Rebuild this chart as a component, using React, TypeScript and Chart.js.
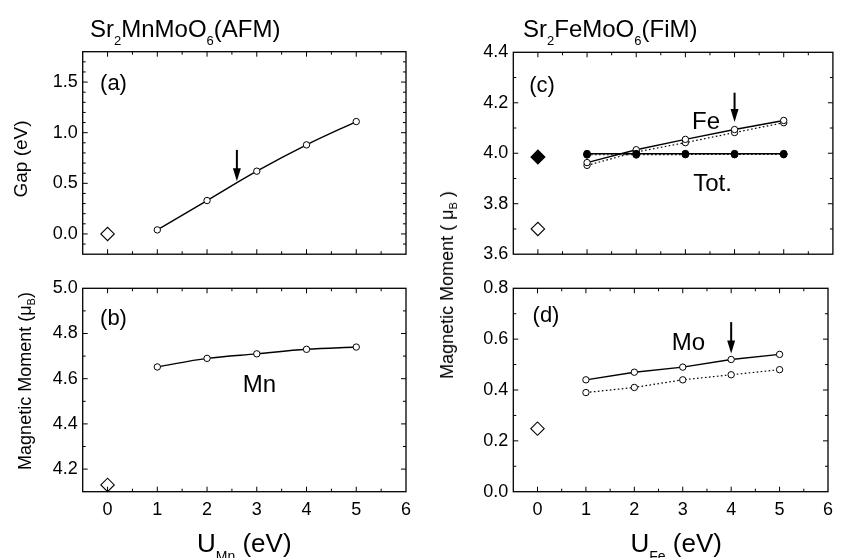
import React, { useEffect, useRef } from 'react';
import { Chart, registerables } from 'chart.js';

Chart.register(...registerables);

// ---------------- data ----------------
const U_VALUES = [1, 2, 3, 4, 5];

const GAP_U0 = 0.0;
const GAP = [0.04, 0.33, 0.62, 0.88, 1.11];

const MN_MOMENT_U0 = 4.13;
const MN_MOMENT = [4.652, 4.69, 4.71, 4.73, 4.74];

const FE_MOMENT_U0 = 3.7;
const TOT_MOMENT_U0 = 3.985;
const FE_MOMENT = [3.963, 4.014, 4.055, 4.094, 4.13];
const FE_MOMENT_DOT = [3.952, 4.005, 4.042, 4.082, 4.121];
const TOT_MOMENT = [3.998, 3.998, 3.998, 3.998, 3.998];
const TOT_MOMENT_DOT = [3.994, 3.994, 3.995, 3.995, 3.995];

const MO_MOMENT_U0 = 0.248;
const MO_MOMENT = [0.44, 0.47, 0.49, 0.52, 0.54];
const MO_MOMENT_DOT = [0.39, 0.41, 0.44, 0.46, 0.48];

const X_TICK_LABELS = ['0', '1', '2', '3', '4', '5', '6'];
const GAP_TICK_LABELS = ['0.0', '0.5', '1.0', '1.5'];
const MN_TICK_LABELS = ['4.2', '4.4', '4.6', '4.8', '5.0'];
const FE_TICK_LABELS = ['3.6', '3.8', '4.0', '4.2', '4.4'];
const MO_TICK_LABELS = ['0.0', '0.2', '0.4', '0.6', '0.8'];

// arrows: x, start value, tip value
const ARROW_A = { x: 2.6, from: 0.83, to: 0.52 };
const ARROW_C = { x: 4.0, from: 4.24, to: 4.124 };
const ARROW_D = { x: 4.0, from: 0.667, to: 0.544 };

// ---------------- styling ----------------
const FONT = "'Liberation Sans', Arial, Helvetica, sans-serif";
const BLACK = '#000';
const TICK_FONT_SIZE = 18;

type XY = { x: number; y: number };
const pts = (ys: number[]): XY[] => U_VALUES.map((u, i) => ({ x: u, y: ys[i] }));

function diamond(x: number, y: number, filled: boolean, r: number) {
  return {
    data: [{ x, y }],
    showLine: false,
    pointStyle: 'rectRot',
    pointRadius: r,
    pointHoverRadius: r,
    pointBorderColor: BLACK,
    pointBackgroundColor: filled ? BLACK : '#fff',
    pointBorderWidth: 1.1,
  };
}

function series(ys: number[], opts: { dotted?: boolean; filled?: boolean; curve?: boolean; r?: number }) {
  const r = opts.r ?? 3.2;
  return {
    data: pts(ys),
    showLine: true,
    borderColor: BLACK,
    borderWidth: opts.dotted ? 1.2 : 1.4,
    borderDash: opts.dotted ? [1.6, 2.4] : [],
    cubicInterpolationMode: opts.curve ? 'monotone' : 'default',
    tension: 0,
    pointStyle: 'circle',
    pointRadius: r,
    pointHoverRadius: r,
    pointBorderColor: BLACK,
    pointBackgroundColor: opts.filled ? BLACK : '#fff',
    pointBorderWidth: 1,
  };
}

type Spec = {
  key: string;
  box: { left: number; top: number; width: number; height: number };
  area: { l: number; t: number; r: number; b: number };
  xh: number;
  showX: boolean;
  yMin: number;
  yMax: number;
  yStep: number;
  yLabels: string[];
  datasets: any[];
  arrow?: { x: number; from: number; to: number };
};

const SPECS: Spec[] = [
  {
    key: 'a',
    box: { left: 0, top: 0, width: 420, height: 270 },
    area: { l: 82.7, t: 51.7, r: 406, b: 256.7 },
    xh: 0,
    showX: false,
    yMin: -0.2,
    yMax: 1.8,
    yStep: 0.1,
    yLabels: GAP_TICK_LABELS,
    datasets: [diamond(0, GAP_U0, false, 6.7), series(GAP, { curve: true })],
    arrow: ARROW_A,
  },
  {
    key: 'b',
    box: { left: 0, top: 270, width: 420, height: 288 },
    area: { l: 82.7, t: 18.3, r: 406, b: 221.7 },
    xh: 40,
    showX: true,
    yMin: 4.1,
    yMax: 5.0,
    yStep: 0.1,
    yLabels: MN_TICK_LABELS,
    datasets: [diamond(0, MN_MOMENT_U0, false, 6.7), series(MN_MOMENT, { curve: true })],
  },
  {
    key: 'c',
    box: { left: 420, top: 0, width: 421, height: 270 },
    area: { l: 93.3, t: 52.3, r: 416.7, b: 256.7 },
    xh: 0,
    showX: false,
    yMin: 3.6,
    yMax: 4.4,
    yStep: 0.1,
    yLabels: FE_TICK_LABELS,
    datasets: [
      diamond(0, TOT_MOMENT_U0, true, 7),
      diamond(0, FE_MOMENT_U0, false, 6.7),
      series(TOT_MOMENT, { filled: true, r: 3.4 }),
      series(TOT_MOMENT_DOT, { filled: true, dotted: true, r: 3.4 }),
      series(FE_MOMENT, {}),
      series(FE_MOMENT_DOT, { dotted: true }),
    ],
    arrow: ARROW_C,
  },
  {
    key: 'd',
    box: { left: 420, top: 270, width: 421, height: 288 },
    area: { l: 93.3, t: 18.3, r: 416.7, b: 221.7 },
    xh: 40,
    showX: true,
    yMin: 0,
    yMax: 0.8,
    yStep: 0.1,
    yLabels: MO_TICK_LABELS,
    datasets: [diamond(0, MO_MOMENT_U0, false, 6.7), series(MO_MOMENT, {}), series(MO_MOMENT_DOT, { dotted: true })],
    arrow: ARROW_D,
  },
];

const labelFor = (labels: string[], v: number) => {
  const found = labels.find((l) => Math.abs(parseFloat(l) - v) < 1e-6);
  return found ?? '';
};

function makeConfig(spec: Spec): any {
  const { box, area } = spec;
  const framePlugin = {
    id: 'frameTicks' + spec.key,
    afterDraw(chart: any) {
      const ctx = chart.ctx;
      const ca = chart.chartArea;
      const xs = chart.scales.x;
      const ys = chart.scales.y;
      ctx.save();
      ctx.strokeStyle = BLACK;
      ctx.lineWidth = 1.3;
      ctx.strokeRect(ca.left, ca.top, ca.right - ca.left, ca.bottom - ca.top);
      ctx.lineWidth = 1;
      ctx.beginPath();
      for (const t of xs.ticks) {
        const v = t.value;
        if (v <= xs.min + 1e-6 || v >= xs.max - 1e-6) continue;
        const major = labelFor(X_TICK_LABELS, v) !== '';
        const len = major ? 5 : 3;
        const px = xs.getPixelForValue(v);
        ctx.moveTo(px, ca.bottom);
        ctx.lineTo(px, ca.bottom - len);
        ctx.moveTo(px, ca.top);
        ctx.lineTo(px, ca.top + len);
      }
      for (const t of ys.ticks) {
        const v = t.value;
        if (v <= ys.min + 1e-6 || v >= ys.max - 1e-6) continue;
        const major = labelFor(spec.yLabels, v) !== '';
        const len = major ? 5 : 3;
        const py = ys.getPixelForValue(v);
        ctx.moveTo(ca.left, py);
        ctx.lineTo(ca.left + len, py);
        ctx.moveTo(ca.right, py);
        ctx.lineTo(ca.right - len, py);
      }
      ctx.stroke();

      const arrow = spec.arrow;
      if (arrow) {
        const px = xs.getPixelForValue(arrow.x);
        const y0 = ys.getPixelForValue(arrow.from);
        const y1 = ys.getPixelForValue(arrow.to);
        const head = 13;
        const hw = 4;
        ctx.lineWidth = 2;
        ctx.beginPath();
        ctx.moveTo(px, y0);
        ctx.lineTo(px, y1 - head + 2);
        ctx.stroke();
        ctx.fillStyle = BLACK;
        ctx.beginPath();
        ctx.moveTo(px, y1);
        ctx.lineTo(px - hw, y1 - head);
        ctx.lineTo(px + hw, y1 - head);
        ctx.closePath();
        ctx.fill();
      }
      ctx.restore();
    },
  };

  return {
    type: 'scatter',
    data: { datasets: spec.datasets.map((d) => ({ ...d, clip: false })) },
    options: {
      animation: false,
      responsive: false,
      maintainAspectRatio: false,
      events: [],
      layout: {
        padding: {
          left: 0,
          top: area.t,
          right: box.width - area.r,
          bottom: box.height - area.b - spec.xh,
        },
      },
      plugins: { legend: { display: false }, tooltip: { enabled: false }, title: { display: false } },
      scales: {
        x: {
          type: 'linear',
          min: -0.5,
          max: 6,
          grid: { display: false, drawTicks: false },
          border: { display: false },
          ticks: {
            display: spec.showX,
            stepSize: 0.5,
            autoSkip: false,
            maxRotation: 0,
            minRotation: 0,
            padding: 8,
            color: BLACK,
            font: { family: FONT, size: TICK_FONT_SIZE },
            callback: (v: number) => labelFor(X_TICK_LABELS, v),
          },
          afterFit: (s: any) => {
            s.height = spec.xh;
          },
        },
        y: {
          type: 'linear',
          min: spec.yMin,
          max: spec.yMax,
          grid: { display: false, drawTicks: false },
          border: { display: false },
          ticks: {
            stepSize: spec.yStep,
            autoSkip: false,
            padding: 5,
            color: BLACK,
            font: { family: FONT, size: TICK_FONT_SIZE },
            callback: (v: number) => labelFor(spec.yLabels, v),
          },
          afterFit: (s: any) => {
            s.width = area.l;
          },
        },
      },
    },
    plugins: [framePlugin],
  };
}

function PanelChart({ spec }: { spec: Spec }) {
  const ref = useRef<HTMLCanvasElement | null>(null);
  useEffect(() => {
    if (!ref.current) return;
    const chart = new Chart(ref.current, makeConfig(spec));
    return () => chart.destroy();
  }, [spec]);
  return (
    <canvas
      ref={ref}
      width={spec.box.width}
      height={spec.box.height}
      style={{
        position: 'absolute',
        left: spec.box.left,
        top: spec.box.top,
        width: spec.box.width,
        height: spec.box.height,
      }}
    />
  );
}

const Sub = ({ size, shift, children }: { size: number; shift: number; children: React.ReactNode }) => (
  <span style={{ fontSize: size, position: 'relative', top: shift }}>{children}</span>
);

function Txt({
  x,
  y,
  size,
  children,
  left = false,
  rotate = false,
}: {
  x: number;
  y: number;
  size: number;
  children: React.ReactNode;
  left?: boolean;
  rotate?: boolean;
}) {
  return (
    <div
      style={{
        position: 'absolute',
        left: x,
        top: y,
        fontSize: size,
        lineHeight: 1,
        whiteSpace: 'nowrap',
        color: BLACK,
        transform: `translate(${left ? '0' : '-50%'}, -50%)${rotate ? ' rotate(-90deg)' : ''}`,
      }}
    >
      {children}
    </div>
  );
}

export default function App() {
  return (
    <div
      style={{
        position: 'absolute',
        left: 0,
        top: 0,
        width: 841,
        height: 558,
        background: '#fff',
        overflow: 'hidden',
        fontFamily: FONT,
      }}
    >
      {SPECS.map((s) => (
        <PanelChart key={s.key} spec={s} />
      ))}

      {/* titles */}
      <Txt x={90} y={29} size={24} left>
        Sr<Sub size={13} shift={8}>2</Sub>MnMoO<Sub size={13} shift={8}>6</Sub>(AFM)
      </Txt>
      <Txt x={523} y={29} size={24} left>
        Sr<Sub size={13} shift={8}>2</Sub>FeMoO<Sub size={13} shift={8}>6</Sub>(FiM)
      </Txt>

      {/* panel labels */}
      <Txt x={113.5} y={83} size={22}>(a)</Txt>
      <Txt x={113.5} y={318} size={22}>(b)</Txt>
      <Txt x={542} y={85} size={22}>(c)</Txt>
      <Txt x={546} y={315} size={22}>(d)</Txt>

      {/* annotations */}
      <Txt x={259.5} y={384} size={24}>Mn</Txt>
      <Txt x={706} y={120.5} size={24}>Fe</Txt>
      <Txt x={712.5} y={182.5} size={24}>Tot.</Txt>
      <Txt x={688.5} y={341.5} size={24}>Mo</Txt>

      {/* axis titles */}
      <Txt x={20} y={159} size={19} rotate>
        Gap (eV)
      </Txt>
      <Txt x={25} y={381} size={18} rotate>
        Magnetic Moment (μ<Sub size={11} shift={4}>B</Sub>)
      </Txt>
      <Txt x={447} y={285} size={18} rotate>
        Magnetic Moment ( μ<Sub size={11} shift={4}>B</Sub> )
      </Txt>
      <Txt x={197} y={543} size={26} left>
        U<Sub size={14} shift={9}>Mn</Sub> (eV)
      </Txt>
      <Txt x={630.5} y={543} size={26} left>
        U<Sub size={14} shift={9}>Fe</Sub> (eV)
      </Txt>
    </div>
  );
}
